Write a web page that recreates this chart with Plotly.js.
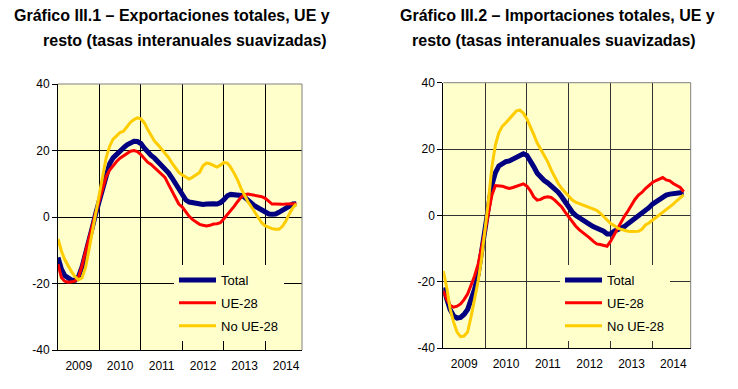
<!DOCTYPE html>
<html>
<head>
<meta charset="utf-8">
<script src="https://cdn.plot.ly/plotly-3.0.1.min.js"></script>
<style>html,body{margin:0;padding:0;background:#fff;}#chart{width:738px;height:389px;}</style>
</head>
<body>
<div id="chart"></div>
<script>
// Monthly observations, January 2009 to October 2014
const startYear = 2009, nMonths = 70;
const months = [];
for (let i = 0; i < nMonths; i++) {
  const y = startYear + Math.floor(i / 12), m = (i % 12) + 1;
  months.push(y + '-' + (m < 10 ? '0' : '') + m + '-01');
}
const seriesNames = ['Total', 'UE-28', 'No UE-28'];
const yTickVals = [-40, -20, 0, 20, 40];
const yTickText = ['-40', '-20', '0', '20', '40'];

// Gráfico III.1 – Exportaciones
const expTotal = [
  -12.2, -15.8, -17.6, -18.5, -19.0, -19.0, -17.9, -15.0, -11.3, -7.1, -2.9, 1.2,
  5.3, 9.6, 13.3, 16.0, 17.8, 19.0, 19.9, 20.8, 21.7, 22.4, 22.8, 22.7,
  22.1, 20.7, 19.4, 18.5, 17.7, 16.6, 15.6, 14.5, 13.3, 11.8, 10.1, 8.1,
  6.3, 5.1, 4.5, 4.3, 4.1, 4.0, 3.8, 3.9, 4.1, 4.0, 3.9, 4.3,
  5.2, 6.4, 6.8, 6.8, 6.8, 6.5, 6.0, 5.0, 4.0, 3.3, 2.7, 2.1,
  1.4, 0.9, 0.8, 0.9, 1.4, 2.0, 2.8, 3.4, 3.9, 4.0];
const expUE = [
  -14.2, -18.3, -19.3, -19.6, -19.5, -19.2, -18.0, -14.6, -10.3, -6.1, -2.0, 1.5,
  5.1, 8.9, 12.1, 14.1, 15.5, 16.7, 17.7, 18.5, 19.2, 19.8, 20.0, 19.7,
  18.8, 17.6, 16.5, 15.8, 14.9, 13.9, 13.1, 11.9, 9.8, 7.8, 5.7, 3.9,
  3.0, 1.5, 0.2, -0.8, -1.5, -2.2, -2.5, -2.7, -2.5, -2.1, -2.0, -1.7,
  -0.5, 0.7, 1.8, 3.2, 4.6, 5.9, 6.7, 6.9, 6.7, 6.5, 6.3, 6.1,
  5.6, 4.6, 3.9, 3.9, 3.8, 3.8, 3.9, 4.0, 4.1, 4.0];
const expNoUE = [
  -6.6, -10.3, -12.8, -14.8, -16.5, -18.0, -18.9, -18.3, -15.1, -9.8, -4.0, 1.6,
  7.5, 12.9, 17.8, 21.3, 23.4, 24.4, 25.4, 25.8, 27.2, 28.5, 29.3, 29.8,
  29.5, 28.3, 26.4, 24.4, 22.8, 21.7, 20.5, 19.3, 17.9, 16.3, 14.8, 13.4,
  12.6, 12.0, 11.4, 12.0, 12.7, 13.4, 15.4, 16.2, 16.0, 15.6, 15.0, 15.6,
  16.4, 16.2, 15.0, 13.2, 11.2, 8.6, 6.6, 4.6, 3.0, 1.5, 0.0, -1.8,
  -2.7, -3.2, -3.5, -3.7, -3.7, -2.8, -1.2, 1.0, 2.8, 3.9];

// Gráfico III.2 – Importaciones
const impTotal = [
  -21.8, -25.4, -28.4, -30.3, -31.0, -30.8, -29.9, -28.4, -25.4, -22.3, -17.8, -11.7,
  -4.6, 3.0, 9.1, 12.9, 14.9, 15.8, 16.2, 16.4, 17.0, 17.8, 18.4, 18.6,
  18.1, 16.5, 14.7, 12.7, 11.4, 10.5, 9.8, 9.0, 8.0, 7.0, 5.6, 4.0,
  2.4, 1.0, 0.0, -0.8, -1.5, -2.0, -2.7, -3.4, -3.8, -4.2, -4.8, -5.6,
  -5.6, -4.8, -4.4, -3.8, -3.4, -2.5, -1.7, -0.9, -0.2, 0.5, 1.3, 2.3,
  3.4, 4.1, 4.8, 5.6, 6.1, 6.4, 6.6, 6.8, 6.8, 6.8];
const impUE = [
  -22.8, -25.4, -27.1, -27.7, -27.4, -26.7, -25.4, -23.7, -21.0, -18.3, -14.7, -10.2,
  -4.6, 1.0, 6.1, 9.0, 9.0, 8.8, 8.4, 8.1, 8.4, 8.8, 9.2, 9.5,
  8.8, 7.4, 5.6, 4.6, 4.8, 5.4, 5.6, 5.4, 4.6, 3.6, 2.5, 1.0,
  -0.5, -2.0, -3.2, -4.3, -5.1, -5.8, -6.8, -7.8, -8.6, -8.8, -9.0, -9.3,
  -7.8, -5.8, -3.8, -2.0, -0.3, 1.3, 3.0, 4.8, 6.1, 6.9, 8.1, 9.1,
  9.9, 10.5, 11.0, 11.4, 10.7, 10.4, 9.6, 9.0, 8.4, 7.1];
const impNoUE = [
  -16.8, -22.0, -28.1, -32.2, -35.2, -36.6, -36.4, -35.2, -30.5, -25.7, -19.8, -13.2,
  -4.6, 5.1, 14.5, 21.3, 24.9, 26.9, 27.9, 29.2, 30.5, 31.5, 31.7, 30.8,
  29.1, 26.9, 24.4, 21.8, 20.0, 18.1, 16.2, 13.7, 11.5, 9.6, 8.1, 6.9,
  5.6, 4.6, 4.0, 3.6, 3.1, 2.7, 2.4, 2.1, 1.5, 0.7, -0.3, -1.3,
  -2.5, -3.1, -3.8, -4.2, -4.6, -4.8, -4.9, -4.9, -4.8, -4.2, -2.9, -2.3,
  -1.5, -0.7, 0.1, 0.9, 1.7, 2.5, 3.4, 4.4, 5.4, 6.2];

const colors = ['#000080', '#FF0000', '#FFCC00'];
const widths = [5, 3, 3];
const FONT = 'Liberation Sans, Arial, sans-serif';
const BG = '#FFFFCC';
const W = 738, H = 389;

function mk(yv, i, xa, ya, lg) {
  return {
    type: 'scatter', mode: 'lines', x: months, y: yv, name: seriesNames[i],
    xaxis: xa, yaxis: ya, legend: lg, legendgroup: lg + i,
    line: {color: colors[i], width: widths[i]}, hoverinfo: 'skip'
  };
}
const traces = [
  mk(expTotal, 0, 'x', 'y', 'legend'), mk(expUE, 1, 'x', 'y', 'legend'), mk(expNoUE, 2, 'x', 'y', 'legend'),
  mk(impTotal, 0, 'x2', 'y2', 'legend2'), mk(impUE, 1, 'x2', 'y2', 'legend2'), mk(impNoUE, 2, 'x2', 'y2', 'legend2')
];

function xax(dom, endDate, anchor, gc) {
  return {
    type: 'date', domain: dom, range: ['2009-01-01', endDate], anchor: anchor,
    tickmode: 'linear', tick0: '2009-01-01', dtick: 'M12', ticklabelmode: 'period', tickformat: '%Y',
    showgrid: true, gridcolor: gc, gridwidth: 1, ticks: '', showline: true, linecolor: '#000', linewidth: 1,
    ticklabelstandoff: 5,
    tickfont: {family: FONT, size: 12, color: '#000'}, fixedrange: true
  };
}
function yax(dom, anchor, gc) {
  return {
    domain: dom, range: [-40, 40], tickmode: 'array', tickvals: yTickVals, ticktext: yTickText, anchor: anchor,
    showgrid: true, gridcolor: gc, gridwidth: 1, zeroline: false, showline: true, linecolor: '#000', linewidth: 1,
    ticks: 'outside', ticklen: 5, tickcolor: '#000', tickwidth: 1,
    tickfont: {family: FONT, size: 12, color: '#000'}, fixedrange: true
  };
}
function legendCfg(px) {
  return {
    x: px / W, y: 1 - 265 / H, xanchor: 'left', yanchor: 'top', bgcolor: BG, borderwidth: 0,
    font: {family: FONT, size: 13, color: '#000'}, tracegroupgap: 3, itemwidth: 37,
    itemclick: false, itemdoubleclick: false
  };
}
function title(text, x, y) {
  return {text: '<b>' + text + '</b>', xref: 'paper', yref: 'paper', x: x / W, y: 1 - y / H,
    xanchor: 'left', yanchor: 'middle', showarrow: false, font: {family: FONT, size: 16, color: '#000'}};
}
function edges(xr, yr) {
  return [
    {type: 'line', xref: xr + ' domain', yref: yr + ' domain', x0: 0, x1: 1, y0: 1, y1: 1,
      line: {color: '#808080', width: 1}, layer: 'above'},
    {type: 'line', xref: xr + ' domain', yref: yr + ' domain', x0: 1, x1: 1, y0: 0, y1: 1,
      line: {color: '#808080', width: 1}, layer: 'above'}
  ];
}

const layout = {
  width: W, height: H, margin: {l: 0, r: 0, t: 0, b: 0},
  paper_bgcolor: '#FFFFFF', plot_bgcolor: BG, font: {family: FONT, color: '#000'},
  xaxis: xax([58 / W, 302 / W], '2014-11-20', 'y', '#000000'),
  yaxis: yax([1 - 350 / H, 1 - 84 / H], 'x', '#000000'),
  xaxis2: xax([443.3 / W, 690.7 / W], '2014-12-01', 'y2', '#333333'),
  yaxis2: yax([1 - 348 / H, 1 - 82.7 / H], 'x2', '#333333'),
  legend: legendCfg(174), legend2: legendCfg(560),
  shapes: edges('x', 'y').concat(edges('x2', 'y2')),
  annotations: [
    title('Gráfico III.1 – Exportaciones totales, UE y', 12, 16),
    title('resto (tasas interanuales suavizadas)', 41, 40),
    title('Gráfico III.2 – Importaciones totales, UE y', 398, 16),
    title('resto (tasas interanuales suavizadas)', 410, 40)
  ],
  showlegend: true
};
Plotly.newPlot('chart', traces, layout, {displayModeBar: false, staticPlot: true});
</script>
</body>
</html>
